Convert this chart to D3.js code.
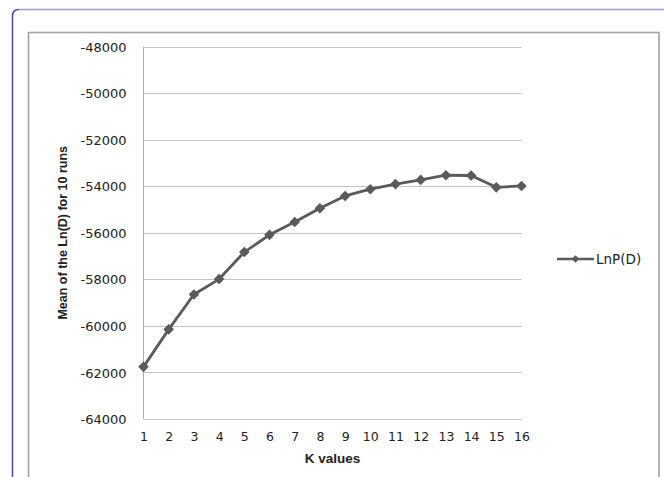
<!DOCTYPE html>
<html>
<head>
<meta charset="utf-8">
<script src="https://cdn.jsdelivr.net/npm/d3@7"></script>
<style>
  html, body { margin: 0; padding: 0; background: #fff; }
  svg { display: block; }
</style>
</head>
<body>
<svg id="chart" width="664" height="477"></svg>
<script>
const kValues = [1, 2, 3, 4, 5, 6, 7, 8, 9, 10, 11, 12, 13, 14, 15, 16];
const lnPD = [-61760, -60150, -58650, -57990, -56830, -56090, -55540, -54950, -54420, -54130, -53910, -53730, -53530, -53540, -54050, -53990];
const yTicks = [-64000, -62000, -60000, -58000, -56000, -54000, -52000, -50000, -48000];
const seriesName = "LnP(D)";
const xTitle = "K values";
const yTitle = "Mean of the Ln(D) for 10 runs";

const svg = d3.select("#chart");

// outer frame (rounded top-left)
svg.append("path")
  .attr("d", "M12.5,480 L12.5,16 Q12.5,9.5 19,9.5")
  .attr("fill", "none").attr("stroke", "#5048a4").attr("stroke-width", 1.6);
svg.append("path")
  .attr("d", "M19,9.5 L664,9.5")
  .attr("fill", "none").attr("stroke", "#9d99c8").attr("stroke-width", 1.4);

// inner chart box
svg.append("rect")
  .attr("x", 28.5).attr("y", 32.5).attr("width", 630.5).attr("height", 470)
  .attr("fill", "#fff").attr("stroke", "#a3a3a3").attr("stroke-width", 1.6);

const x = d3.scaleLinear().domain([1, 16]).range([143.5, 521.5]);
const y = d3.scaleLinear().domain([-64000, -48000]).range([419, 46.5]);

// gridlines
svg.append("g").selectAll("line").data(yTicks).join("line")
  .attr("x1", x(1)).attr("x2", x(16))
  .attr("y1", d => Math.round(y(d)) + 0.5).attr("y2", d => Math.round(y(d)) + 0.5)
  .attr("stroke", "#c4c4c4").attr("stroke-width", 1);

// left axis line
svg.append("line")
  .attr("x1", x(1)).attr("x2", x(1)).attr("y1", y(-48000)).attr("y2", y(-64000))
  .attr("stroke", "#b0b0b0").attr("stroke-width", 1);

// y tick labels via axis
const yAxis = d3.axisLeft(y).tickValues(yTicks).tickSize(0).tickPadding(0).tickFormat(d => String(d));
const gy = svg.append("g").attr("transform", `translate(${x(1) - 17},0)`).call(yAxis);
gy.select(".domain").remove();
gy.selectAll("text")
  .attr("font-family", "DejaVu Sans, sans-serif").attr("font-size", 13)
  .attr("fill", "#222").attr("dy", "0.35em");

// x tick labels via axis
const xAxis = d3.axisBottom(x).tickValues(kValues).tickSize(0).tickPadding(0).tickFormat(d => String(d));
const gx = svg.append("g").attr("transform", `translate(0,${y(-64000) + 13})`).call(xAxis);
gx.select(".domain").remove();
gx.selectAll("text")
  .attr("font-family", "DejaVu Sans, sans-serif").attr("font-size", 12.5)
  .attr("fill", "#222");

// axis titles
svg.append("text")
  .attr("x", (x(1) + x(16)) / 2).attr("y", 463)
  .attr("text-anchor", "middle")
  .attr("font-family", "Liberation Sans, Arial, sans-serif").attr("font-weight", "bold")
  .attr("font-size", 13.5).attr("fill", "#222")
  .text(xTitle);
svg.append("text")
  .attr("transform", `translate(67,${(y(-48000) + y(-64000)) / 2}) rotate(-90)`)
  .attr("text-anchor", "middle")
  .attr("font-family", "Liberation Sans, Arial, sans-serif").attr("font-weight", "bold")
  .attr("font-size", 12.5).attr("fill", "#222")
  .text(yTitle);

// series line
const pts = kValues.map((k, i) => [k, lnPD[i]]);
svg.append("path")
  .datum(pts)
  .attr("d", d3.line().x(d => x(d[0])).y(d => y(d[1])))
  .attr("fill", "none").attr("stroke", "#5a5a5a").attr("stroke-width", 2.8)
  .attr("stroke-linejoin", "round");

const diamond = d3.symbol().type(d3.symbolSquare).size(56);
svg.append("g").selectAll("path").data(pts).join("path")
  .attr("d", diamond)
  .attr("transform", d => `translate(${x(d[0])},${y(d[1])}) rotate(45)`)
  .attr("fill", "#5a5a5a");

// legend
const ly = 259;
svg.append("line").attr("x1", 557).attr("x2", 594).attr("y1", ly).attr("y2", ly)
  .attr("stroke", "#5a5a5a").attr("stroke-width", 2.6);
svg.append("path").attr("d", d3.symbol().type(d3.symbolSquare).size(30))
  .attr("transform", `translate(575.5,${ly}) rotate(45)`).attr("fill", "#5a5a5a");
svg.append("text").attr("x", 596).attr("y", ly).attr("dy", "0.36em")
  .attr("font-family", "DejaVu Sans, sans-serif").attr("font-size", 13.5)
  .attr("fill", "#222").text(seriesName);
</script>
</body>
</html>
